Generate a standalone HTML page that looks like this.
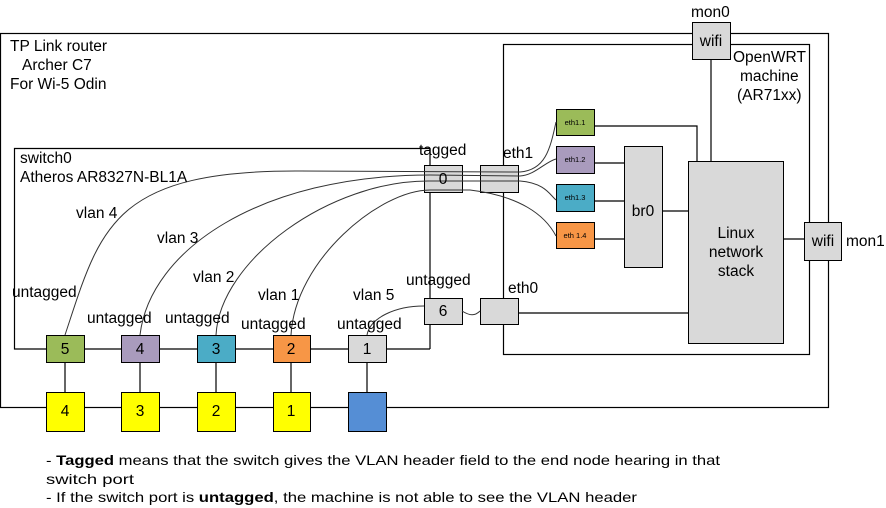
<!DOCTYPE html>
<html><head><meta charset="utf-8"><style>
html,body{margin:0;padding:0;background:#fff;}
svg{display:block;font-family:"Liberation Sans",Arial,sans-serif;}
</style></head><body>
<svg width="886" height="508" viewBox="0 0 886 508" xmlns="http://www.w3.org/2000/svg">
<g fill="none" stroke="#000" stroke-width="1.2">
<rect x="0.5" y="33.5" width="828" height="374"/>
<rect x="503.5" y="44.5" width="306" height="310"/>
<polyline points="430,148.5 14.5,148.5 14.5,349 430,349"/>
<line x1="430" y1="148" x2="430" y2="349"/>
<polyline points="594,126 697,126 697,161"/>
<line x1="711" y1="59" x2="711" y2="161"/>
<line x1="594" y1="163" x2="624" y2="163"/>
<line x1="594" y1="201" x2="624" y2="201"/>
<line x1="594" y1="239" x2="624" y2="239"/>
<line x1="662" y1="211" x2="688" y2="211"/>
<line x1="783" y1="239" x2="804" y2="239"/>
<line x1="518" y1="313" x2="688" y2="313"/>
<line x1="65" y1="362" x2="65" y2="392"/>
<line x1="140" y1="362" x2="140" y2="392"/>
<line x1="216" y1="362" x2="216" y2="392"/>
<line x1="291" y1="362" x2="291" y2="392"/>
<line x1="367" y1="362" x2="367" y2="392"/>
</g>
<g stroke="#000" stroke-width="1">
<rect x="692.5" y="22.5" width="38" height="37" fill="#d9d9d9"/>
<rect x="804.5" y="222.5" width="37" height="38" fill="#d9d9d9"/>
<rect x="556.5" y="109.5" width="38" height="26" fill="#9bbb59"/>
<rect x="556.5" y="146.5" width="38" height="27" fill="#a99bbd"/>
<rect x="556.5" y="184.5" width="38" height="27" fill="#4bacc6"/>
<rect x="556.5" y="222.5" width="38" height="26" fill="#f79646"/>
<rect x="624.5" y="146.5" width="38" height="121" fill="#d9d9d9"/>
<rect x="688.5" y="161.5" width="95" height="182" fill="#d9d9d9"/>
<rect x="424.5" y="165.5" width="38" height="27" fill="#d9d9d9"/>
<rect x="480.5" y="165.5" width="38" height="27" fill="#d9d9d9"/>
<rect x="424.5" y="298.5" width="38" height="26" fill="#d9d9d9"/>
<rect x="480.5" y="298.5" width="38" height="26" fill="#d9d9d9"/>
<rect x="46.5" y="335.5" width="38" height="27" fill="#9bbb59"/>
<rect x="121.5" y="335.5" width="38" height="27" fill="#a99bbd"/>
<rect x="197.5" y="335.5" width="38" height="27" fill="#4bacc6"/>
<rect x="273.5" y="335.5" width="37" height="27" fill="#f79646"/>
<rect x="348.5" y="335.5" width="38" height="27" fill="#d9d9d9"/>
<rect x="46.5" y="392.5" width="38" height="39" fill="#ffff00"/>
<rect x="121.5" y="392.5" width="38" height="39" fill="#ffff00"/>
<rect x="197.5" y="392.5" width="38" height="39" fill="#ffff00"/>
<rect x="273.5" y="392.5" width="37" height="39" fill="#ffff00"/>
<rect x="348.5" y="392.5" width="38" height="39" fill="#558ed5"/>
</g>
<g fill="none" stroke="#333" stroke-width="1">
<path d="M65,335 C100,230 110,170 300,171 L520,172 C545,170 550,150 556,122"/>
<path d="M140,335 C150,250 260,175 430,175 L520,176 C535,175 545,162 556,159"/>
<path d="M216,335 C220,260 330,180 430,181 L520,181 C545,183 550,195 556,200"/>
<path d="M291,335 C295,260 380,190 430,190 L470,190 C520,196 545,215 556,236"/>
<path d="M367,335 C370,318 395,306 424,306"/>
<path d="M462,311 C470,316 475,316 480,311"/>
</g>
<g font-size="15.5" fill="#000">
<text x="10" y="51">TP Link router</text>
<text x="22" y="70">Archer C7</text>
<text x="10" y="89">For Wi-5 Odin</text>
<text x="20" y="163">switch0</text>
<text x="20" y="182">Atheros AR8327N-BL1A</text>
<text x="76" y="218">vlan 4</text>
<text x="157" y="243">vlan 3</text>
<text x="193" y="282">vlan 2</text>
<text x="258" y="300">vlan 1</text>
<text x="353" y="300">vlan 5</text>
<text x="12" y="297">untagged</text>
<text x="87" y="323">untagged</text>
<text x="165" y="323">untagged</text>
<text x="241" y="329">untagged</text>
<text x="337" y="329">untagged</text>
<text x="406" y="285">untagged</text>
<text x="419" y="155">tagged</text>
<text x="503" y="158">eth1</text>
<text x="508" y="293">eth0</text>
<text x="691" y="17">mon0</text>
<text x="733" y="62">OpenWRT</text>
<text x="740" y="81">machine</text>
<text x="737" y="100">(AR71xx)</text>
<text x="846" y="246">mon1</text>
<text x="711" y="46" text-anchor="middle">wifi</text>
<text x="823" y="246" text-anchor="middle">wifi</text>
<text x="643" y="216" text-anchor="middle">br0</text>
<text x="736" y="238" text-anchor="middle">Linux</text>
<text x="736" y="257" text-anchor="middle">network</text>
<text x="736" y="276" text-anchor="middle">stack</text>
<text x="443" y="184" text-anchor="middle">0</text>
<text x="443" y="316" text-anchor="middle">6</text>
<text x="65" y="354" text-anchor="middle">5</text>
<text x="140" y="354" text-anchor="middle">4</text>
<text x="216" y="354" text-anchor="middle">3</text>
<text x="291" y="354" text-anchor="middle">2</text>
<text x="367" y="354" text-anchor="middle">1</text>
<text x="65" y="416" text-anchor="middle">4</text>
<text x="140" y="416" text-anchor="middle">3</text>
<text x="216" y="416" text-anchor="middle">2</text>
<text x="291" y="416" text-anchor="middle">1</text>
</g>
<g font-size="7.5" fill="#000" text-anchor="middle">
<text x="575" y="125">eth1.1</text>
<text x="575" y="162">eth1.2</text>
<text x="575" y="200">eth1.3</text>
<text x="575" y="238">eth 1.4</text>
</g>
<g font-size="14" fill="#000">
<text x="46" y="465" textLength="674" lengthAdjust="spacingAndGlyphs">- <tspan font-weight="bold">Tagged</tspan> means that the switch gives the VLAN header field to the end node hearing in that</text>
<text x="46" y="484" textLength="88" lengthAdjust="spacingAndGlyphs">switch port</text>
<text x="46" y="502" textLength="591" lengthAdjust="spacingAndGlyphs">- If the switch port is <tspan font-weight="bold">untagged</tspan>, the machine is not able to see the VLAN header</text>
</g>
</svg>
</body></html>
